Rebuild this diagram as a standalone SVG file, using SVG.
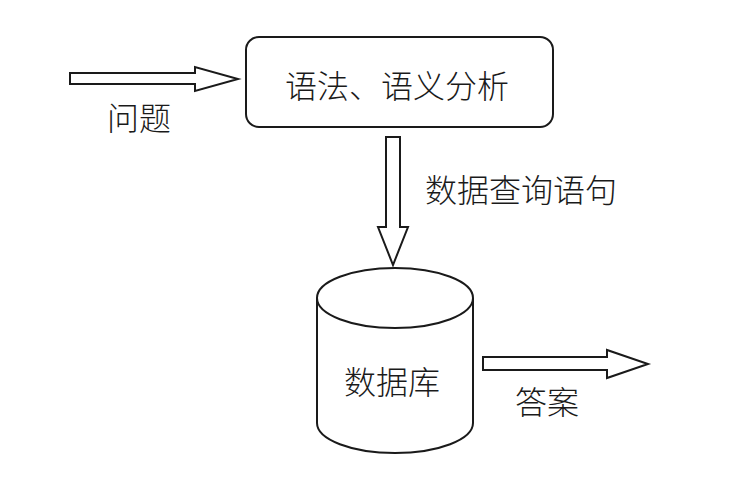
<svg xmlns="http://www.w3.org/2000/svg" width="742" height="484" viewBox="0 0 742 484">
<style>
.s{fill:#fff;stroke:#1a1a1a;stroke-width:2;stroke-linejoin:miter}
.t{font-family:"Noto Sans CJK SC","Noto Sans",sans-serif;font-size:32px;font-weight:300;fill:#1a1a1a}
</style>
<rect width="742" height="484" fill="#fff"/>
<g id="connectors">
<polygon class="s" points="70,73 195,73 195,67 238,79 195,91 195,84 70,84"/>
<polygon class="s" points="386,137 400,137 400,227 408,227 393,265 378,227 386,227"/>
<polygon class="s" points="483,357 607,357 607,350 648,364 607,378 607,370 483,370"/>
</g>
<g id="node-analysis">
<rect class="s" x="246" y="37" width="307" height="90" rx="13"/>
<text class="t" x="397" y="98" text-anchor="middle">语法、语义分析</text>
</g>
<g id="node-db">
<path class="s" d="M317,298 L317,423 A78,30 0 0 0 473,423 L473,298"/>
<ellipse class="s" cx="395" cy="298" rx="78" ry="30"/>
<text class="t" x="392" y="394" text-anchor="middle">数据库</text>
</g>
<g id="labels">
<text class="t" x="139" y="130" text-anchor="middle">问题</text>
<text class="t" x="521" y="202" text-anchor="middle">数据查询语句</text>
<text class="t" x="547" y="414" text-anchor="middle">答案</text>
</g>
</svg>
